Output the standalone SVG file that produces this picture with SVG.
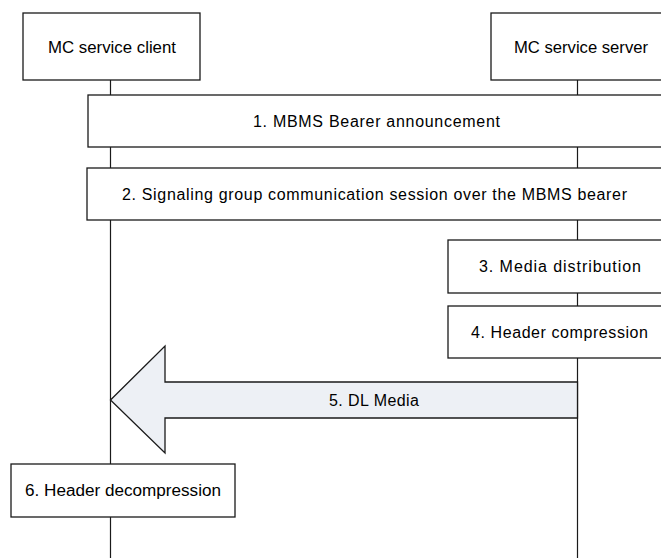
<svg xmlns="http://www.w3.org/2000/svg" width="661" height="558" viewBox="0 0 661 558">
  <style>
    .box { fill: #ffffff; stroke: #1a1a1a; stroke-width: 1.3; }
    .life { stroke: #1a1a1a; stroke-width: 1.2; fill: none; }
    .arrow { fill: #edf0f5; stroke: #1a1a1a; stroke-width: 1.3; stroke-linejoin: miter; }
    text { font-family: "Liberation Sans", Arial, sans-serif; font-size: 16px; fill: #000000; text-anchor: middle; }
  </style>
  <rect width="661" height="558" fill="#ffffff"/>
  <g id="connectors">
    <line class="life" x1="110.5" y1="80" x2="110.5" y2="558"/>
    <line class="life" x1="577.5" y1="80" x2="577.5" y2="558"/>
  </g>
  <g id="client">
    <rect class="box" x="23" y="13" width="177" height="67"/>
    <text x="112" y="52.5" textLength="128" lengthAdjust="spacingAndGlyphs">MC service client</text>
  </g>
  <g id="server">
    <rect class="box" x="491" y="13" width="180" height="67"/>
    <text x="581" y="52.5" textLength="134" lengthAdjust="spacingAndGlyphs">MC service server</text>
  </g>
  <g id="step1">
    <rect class="box" x="88" y="95" width="583" height="52"/>
    <text x="376.5" y="127" textLength="247" lengthAdjust="spacing">1. MBMS Bearer announcement</text>
  </g>
  <g id="step2">
    <rect class="box" x="87" y="168" width="584" height="52"/>
    <text x="374.5" y="199.5" textLength="505" lengthAdjust="spacing">2. Signaling group communication session over the MBMS bearer</text>
  </g>
  <g id="step3">
    <rect class="box" x="448" y="240" width="223" height="53"/>
    <text x="560" y="272" textLength="162" lengthAdjust="spacing">3. Media distribution</text>
  </g>
  <g id="step4">
    <rect class="box" x="448" y="306" width="223" height="52"/>
    <text x="559.5" y="337.5" textLength="177" lengthAdjust="spacing">4. Header compression</text>
  </g>
  <g id="step5">
    <polygon class="arrow" points="110.5,400 165,346 165,382 577.5,382 577.5,418 165,418 165,453"/>
    <text x="374" y="405.5" textLength="90" lengthAdjust="spacing">5. DL Media</text>
  </g>
  <g id="step6">
    <rect class="box" x="11" y="464" width="224" height="53"/>
    <text x="123" y="496" textLength="196" lengthAdjust="spacingAndGlyphs">6. Header decompression</text>
  </g>
</svg>
